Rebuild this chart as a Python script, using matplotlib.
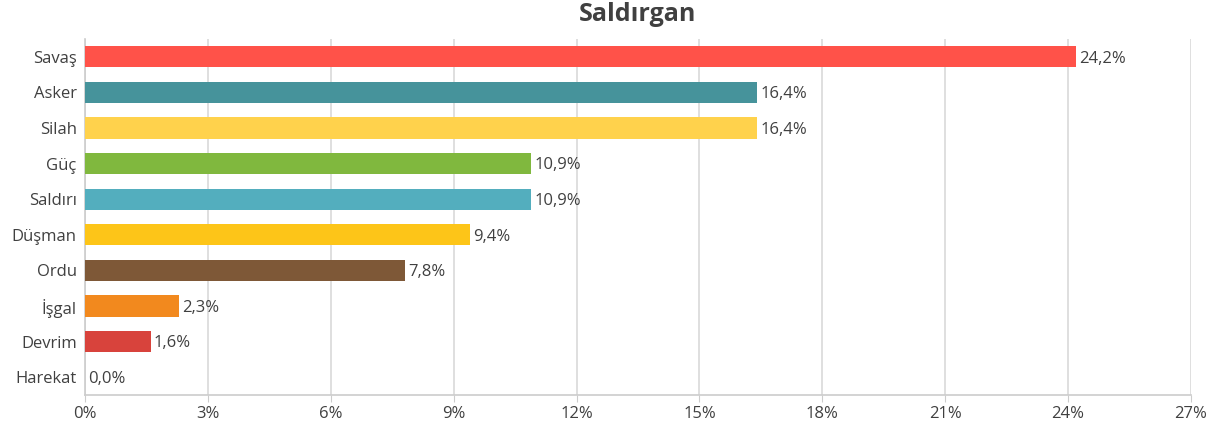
import matplotlib.pyplot as plt
from matplotlib.ticker import FuncFormatter, MultipleLocator

### Data ###
categories = ['Savaş', 'Asker', 'Silah', 'Güç', 'Saldırı', 'Düşman', 'Ordu', 'İşgal', 'Devrim', 'Harekat']
values = [24.2, 16.4, 16.4, 10.9, 10.9, 9.4, 7.8, 2.3, 1.6, 0.0]
colors = ['#FF5249', '#46939B', '#FFD24C', '#80B83E', '#53AEBE',
          '#FDC518', '#7E5837', '#F2891E', '#D8433C', '#999999']

plt.rcParams['font.family'] = ['Open Sans', 'DejaVu Sans']

fig = plt.figure(figsize=(12.23, 4.30), dpi=100)
ax = fig.add_axes([85 / 1223, 1 - 395 / 430, (1191 - 85) / 1223, (395 - 39) / 430])

y = list(range(len(categories)))
ax.barh(y, values, height=0.6, color=colors, zorder=3)

## value labels next to bars
for yi, v in zip(y, values):
    ax.text(v + 0.08, yi + 0.05, f'{v:.1f}%'.replace('.', ','), va='center', ha='left',
            fontsize=12, color='#404040', zorder=4)

ax.set_ylim(len(categories) - 0.5, -0.5)
ax.set_xlim(0, 27)
ax.xaxis.set_major_locator(MultipleLocator(3))
ax.xaxis.set_major_formatter(FuncFormatter(lambda x, p: f'{x:.0f}%'))
ax.set_yticks(y)
ax.set_yticklabels(categories)

ax.grid(axis='x', color='#D9D9D9', linewidth=1.2, zorder=0)
for s in ['top', 'right']:
    ax.spines[s].set_visible(False)
for s in ['left', 'bottom']:
    ax.spines[s].set_color('#CCCCCC')
    ax.spines[s].set_linewidth(1.2)

ax.tick_params(axis='y', length=0, labelsize=12, labelcolor='#404040', pad=6)
ax.tick_params(axis='x', length=5, color='#CCCCCC', labelsize=12, labelcolor='#404040', pad=3)

fig.suptitle('Saldırgan', x=(85 + 1191) / 2 / 1223, y=0.995, fontsize=18,
             fontweight='bold', color='#404040')

fig.savefig('out.png', dpi=100)
